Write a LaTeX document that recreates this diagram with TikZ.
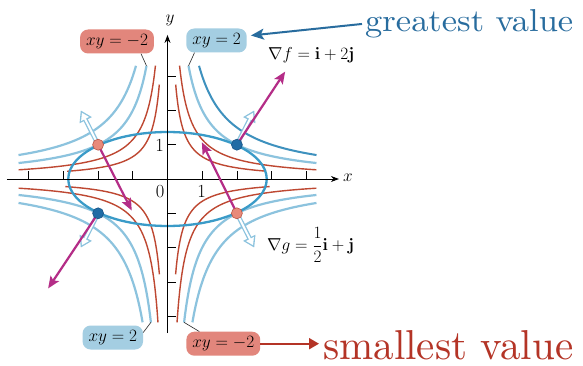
\documentclass[tikz,border=0pt]{standalone}
\usepackage{amsmath}
\usepackage{graphicx}
\usetikzlibrary{arrows.meta}
\definecolor{redc}{RGB}{190,72,50}
\definecolor{lbc}{RGB}{140,195,222}
\definecolor{dbc}{RGB}{62,145,190}
\definecolor{ellc}{RGB}{58,155,200}
\definecolor{magc}{RGB}{180,45,135}
\definecolor{bptc}{RGB}{32,108,165}
\definecolor{bptd}{RGB}{25,85,135}
\definecolor{sptc}{RGB}{232,138,122}
\definecolor{sptd}{RGB}{185,85,70}
\definecolor{rboxc}{RGB}{226,134,124}
\definecolor{bboxc}{RGB}{164,206,226}
\definecolor{gtxt}{RGB}{40,108,158}
\definecolor{stxt}{RGB}{180,52,38}
\newcommand\hypcurve[4]{\draw[#1] plot[domain=0:1, samples=70, variable=\t] ({#3*(#4/#3)^\t},{#2/(#3*(#4/#3)^\t)});}
\tikzset{
  redcurve/.style={draw=redc, line width=1.4pt},
  bluecurve/.style={draw=lbc, line width=2.2pt},
  darkcurve/.style={draw=dbc, line width=2pt},
  ellcurve/.style={draw=ellc, line width=2.3pt},
  axisline/.style={draw=black, line width=0.8pt, -{Stealth[length=8pt,width=6pt]}},
  axtick/.style={draw=black, line width=0.8pt},
  gradf/.style={draw=magc, line width=2.2pt, -{Stealth[length=12pt,width=10pt,inset=2.5pt]}},
  gradgout/.style={draw=lbc, line width=4.6pt, -{Triangle[length=11pt,width=13pt]}},
  gradgin/.style={draw=white, line width=2pt, shorten >=2.6pt, -{Triangle[length=7pt,width=8.4pt]}},
  bpoint/.style={circle, fill=bptc, draw=bptd, line width=0.6pt, minimum size=11pt, inner sep=0pt},
  spoint/.style={circle, fill=sptc, draw=sptd, line width=0.6pt, minimum size=11pt, inner sep=0pt},
  lbl/.style={font=\fontsize{18.5}{21}\selectfont, inner sep=0pt},
  redlbl/.style={lbl, fill=rboxc, rounded corners=8pt, minimum height=24pt, inner xsep=6pt},
  bluelbl/.style={lbl, fill=bboxc, rounded corners=8pt, minimum height=24pt, inner xsep=6pt},
  leader/.style={draw=black!85, line width=0.6pt},
  gvarrow/.style={draw=gtxt, line width=2pt, -{Stealth[length=13pt,width=11pt,inset=3pt]}},
  svarrow/.style={draw=stxt, line width=2pt, -{Triangle[length=10pt,width=11pt]}}
}
\begin{document}
\begin{tikzpicture}[x=1pt,y=-1pt]
\useasboundingbox (0,0) rectangle (583,366);
\fill[white] (0,0) rectangle (583,366);
\begin{scope}[shift={(167.5,179)}, x=34.7pt, y=34.3pt]
  % level curves, quadrant I
  \hypcurve{redcurve}{0.65}{0.236}{2.85}
  \hypcurve{redcurve}{1.15}{0.348}{4.3}
  \hypcurve{bluecurve}{2}{0.606}{4.3}
  \hypcurve{darkcurve}{3}{0.909}{4.3}
  % quadrant II
  \begin{scope}[xscale=-1]
    \hypcurve{redcurve}{0.65}{0.236}{2.9}
    \hypcurve{redcurve}{1.15}{0.348}{4.3}
    \hypcurve{bluecurve}{2}{0.606}{4.3}
    \hypcurve{bluecurve}{3}{0.909}{4.3}
  \end{scope}
  % quadrant III
  \begin{scope}[xscale=-1,yscale=-1]
    \hypcurve{redcurve}{0.65}{0.234}{2.95}
    \hypcurve{redcurve}{1.15}{0.275}{4.3}
    \hypcurve{bluecurve}{2}{0.478}{4.3}
    \hypcurve{bluecurve}{3}{0.718}{4.3}
  \end{scope}
  % quadrant IV
  \begin{scope}[yscale=-1]
    \hypcurve{redcurve}{0.65}{0.234}{2.95}
    \hypcurve{redcurve}{1.15}{0.275}{4.3}
    \hypcurve{bluecurve}{2}{0.478}{4.3}
    \hypcurve{bluecurve}{3}{0.718}{4.3}
  \end{scope}
  % constraint ellipse
  \draw[ellcurve] (0,0) ellipse [x radius=2.86, y radius=1.37];
  % axes
  \coordinate (xs) at (-4.63,0);
  \coordinate (xe) at (4.94,0);
  \coordinate (ys) at (0,-4.49);
  \coordinate (ye) at (0,4.2);
  \draw[axisline] (xs) -- (xe);
  \draw[axisline] (ys) -- (ye);
  \foreach \i in {-4,-3,-2,-1,1,2,3,4} \draw[axtick] (\i,0) -- (\i,0.23);
  \foreach \j in {-4,-3,-2,-1,1,2,3} \draw[axtick] (0,\j) -- (0.24,\j);
  % curve ends for leaders
  \coordinate (eTL) at (-0.606,3.3);
  \coordinate (eTR) at (0.606,3.3);
  \coordinate (eBL) at (-0.478,-4.18);
  \coordinate (eBR) at (0.478,-4.18);
  % points
  \coordinate (pB1) at (2,1);
  \coordinate (pB2) at (-2,-1);
  \coordinate (pS1) at (-2,1);
  \coordinate (pS2) at (2,-1);
  % gradient tips
  \coordinate (gB1) at (2.5,2);
  \coordinate (gB2) at (-2.5,-2);
  \coordinate (gS1) at (-2.5,2);
  \coordinate (gS2) at (2.5,-2);
  \coordinate (fB1) at (3.39,3.13);
  \coordinate (fB2) at (-3.44,-3.19);
  \coordinate (fS1) at (-1.03,-0.92);
  \coordinate (fS2) at (0.99,1.07);
\end{scope}
% hollow grad g arrows
\foreach \p/\q in {pB1/gB1, pB2/gB2, pS1/gS1, pS2/gS2}{
  \draw[gradgout] (\p) -- (\q);
  \draw[gradgin] (\p) -- (\q);
}
% grad f arrows
\foreach \p/\q in {pB1/fB1, pB2/fB2, pS1/fS1, pS2/fS2}
  \draw[gradf] (\p) -- (\q);
% points
\node[bpoint] (B1) at (pB1) {};
\node[bpoint] (B2) at (pB2) {};
\node[spoint] (S1) at (pS1) {};
\node[spoint] (S2) at (pS2) {};
% axis labels
\node[lbl] (xl) at (348,178) {$x$};
\node[lbl] (yl) at (170,20) {$y$};
\node[lbl] (t0) at (160,191.5) {0};
\node[lbl] (tx1) at (201.7,191.5) {1};
\node[lbl] (ty1) at (159.5,145.5) {1};
% level-curve labels
\node[redlbl] (tlbox) at (117,41.5) {$xy=-2$};
\node[bluelbl] (trbox) at (216.5,40.5) {$xy=2$};
\node[bluelbl] (blbox) at (112.8,337.5) {$xy=2$};
\node[redlbl] (brbox) at (223.3,343.7) {$xy=-2$};
\draw[leader] ([xshift=24pt]tlbox.south) -- (eTL);
\draw[leader] ([xshift=-22pt]trbox.south) -- (eTR);
\draw[leader] ([yshift=5pt]blbox.east) -- (eBL);
\draw[leader] ([xshift=-24pt]brbox.north) -- (eBR);
% gradient labels
\node[lbl, anchor=base west] (fl) at (268,60) {$\nabla f=\mathbf{i}+2\mathbf{j}$};
\node[lbl, anchor=west] (gl) at (267,245) {$\nabla g=\dfrac{1}{2}\mathbf{i}+\mathbf{j}$};
% greatest / smallest
\node[anchor=base west, inner sep=0pt, text=gtxt] (gv) at (365,31.7) {\resizebox{208pt}{22pt}{greatest value}};
\node[anchor=base west, inner sep=0pt, text=stxt] (sv) at (323,359) {\resizebox{250pt}{29pt}{smallest value}};
\draw[gvarrow] ([xshift=-3pt]gv.west) -- ([xshift=4pt,yshift=5pt]trbox.east);
\draw[svarrow, shorten >=4pt] (brbox.east) -- (brbox.east -| sv.west);
\end{tikzpicture}
\end{document}
